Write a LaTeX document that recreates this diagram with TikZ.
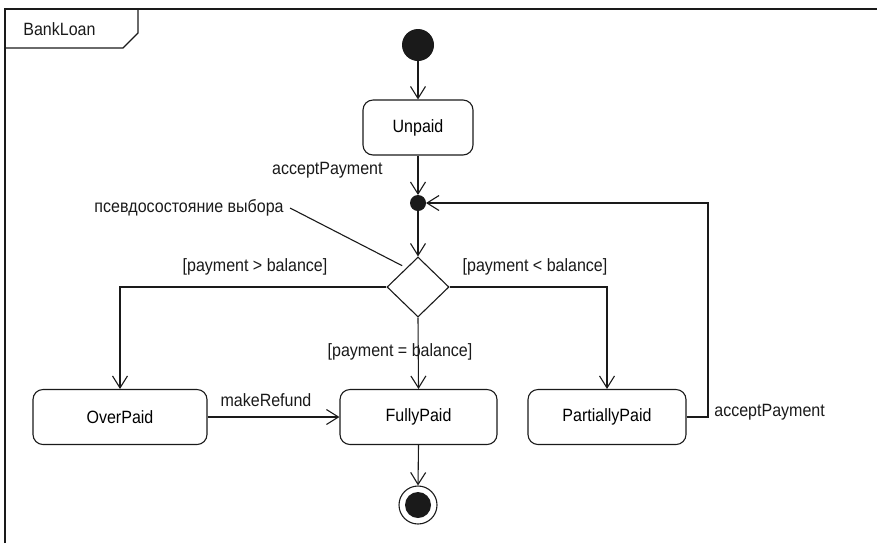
\documentclass[tikz,border=0pt]{standalone}
\usepackage{fontspec}
\setmainfont{Liberation Sans}[FakeStretch=0.9]
\usepackage{tikz}
\usetikzlibrary{arrows.meta,positioning,calc,shapes.geometric}
\definecolor{ink}{HTML}{1A1A1A}
\tikzset{
  state/.style={draw=ink, rounded corners=5pt, line width=0.55pt,
                minimum height=27.5pt, inner sep=0pt, align=center},
  choice/.style={draw=ink, diamond, aspect=1, line width=0.55pt,
                 minimum width=31pt, minimum height=30pt, inner sep=0pt},
  arrow/.style={-{Straight Barb[length=6pt,width=7.5pt]}, line width=0.55pt, draw=ink},
  lbl/.style={text=ink, inner sep=0pt}
}

\begin{document}
\begin{tikzpicture}[x=0.5pt,y=-0.5pt,font=\fontsize{8.9}{10.5}\selectfont]
        \useasboundingbox (0,0) rectangle (877,543);
        % frame
        \draw[ink,line width=0.65pt] (5,543) -- (5,9) -- (877,9);
        \draw[ink,line width=0.55pt] (138,9) -- (138,33) -- (123,48) -- (5,48);
        \node[lbl,anchor=west] (frm) at (23,29) {BankLoan};

        % top part
        \fill[ink] (418,45) circle[radius=8pt] coordinate (init);
        \node[state,minimum width=55pt] (unp) at (418,127.5) {Unpaid};
        \fill[ink] (418,203) circle[radius=4pt];
        \coordinate (jn) at (418,203);
        \node[choice] (ch) at (418,287) {};
        \draw[arrow] ([yshift=-8pt]init) -- (unp.north);
        \draw[arrow] (unp.south) -- ([yshift=4pt]jn);
        \draw[arrow] ([yshift=-4pt]jn) -- (ch.north);
        \node[lbl,anchor=east] (ap1) at (383,170) {acceptPayment};

        % note
        \node[lbl,anchor=east] (note) at (284,208) {псевдосостояние выбора};
        \draw[ink,line width=0.55pt] ([xshift=3pt]note.east) -- ([yshift=3pt]ch.north west);

        % states row
        \node[state,minimum width=87pt] (over)  at (120,417) {OverPaid};
        \node[state,minimum width=78.5pt] (full) at (418.5,417) {FullyPaid};
        \node[state,minimum width=79pt] (part)  at (607,417) {PartiallyPaid};

        \draw[arrow] (ch.west) -| (over.north);
        \node[lbl] (gt) at (255,267) {[payment > balance]};
        \draw[arrow] (ch.east) -| (part.north);
        \node[lbl] (lt) at (535,267) {[payment < balance]};
        \draw[arrow] (ch.south) -- (full.north);
        \node[lbl] (eq) at (400,352) {[payment = balance]};

        \draw[arrow] (over.east) -- (full.west);
        \node[lbl] (mr) at (266,400) {makeRefund};

        % loop back
        \coordinate (lp) at (708,417);
        \draw[arrow] (part.east) -- (lp) |- ([xshift=4pt]jn);
        \node[lbl,anchor=west] (ap2) at (714,412) {acceptPayment};

        % final
        \node[draw=ink,circle,line width=0.55pt,minimum size=19pt,inner sep=0pt] (fin) at (418,505) {};
        \fill[ink] (fin.center) circle[radius=6.5pt];
        \draw[arrow] (full.south) -- (fin.north);
\end{tikzpicture}
\end{document}
